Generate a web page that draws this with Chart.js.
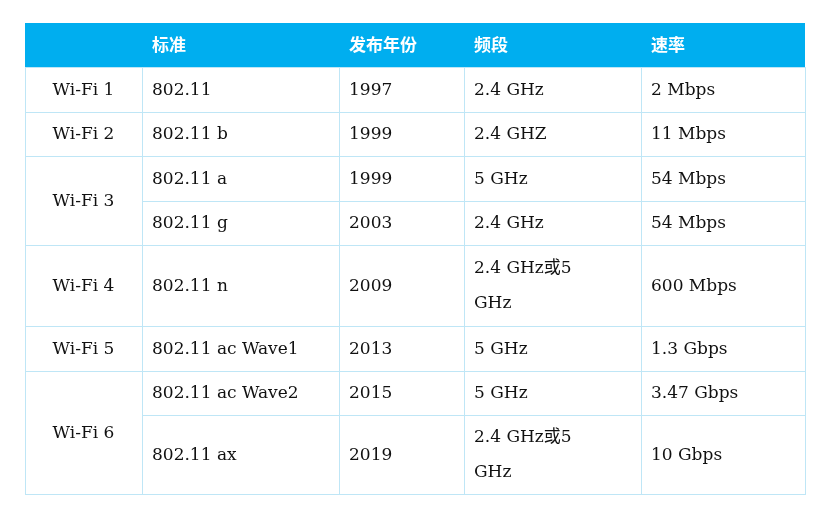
<!DOCTYPE html>
<html><head><meta charset="utf-8">
<script src="https://cdn.jsdelivr.net/npm/chart.js@4/dist/chart.umd.min.js"></script>
<style>html,body{margin:0;padding:0;background:#fff}</style>
</head><body>
<canvas id="c" width="836" height="515"></canvas>
<script>
const headers = ["", "标准", "发布年份", "频段", "速率"];
const generations = [["Wi-Fi 1",1],["Wi-Fi 2",1],["Wi-Fi 3",2],["Wi-Fi 4",1],["Wi-Fi 5",1],["Wi-Fi 6",2]];
const standards = ["802.11","802.11 b","802.11 a","802.11 g","802.11 n","802.11 ac Wave1","802.11 ac Wave2","802.11 ax"];
const years = ["1997","1999","1999","2003","2009","2013","2015","2019"];
const bands = [["2.4 GHz"],["2.4 GHZ"],["5 GHz"],["2.4 GHz"],["2.4 GHz或5","GHz"],["5 GHz"],["5 GHz"],["2.4 GHz或5","GHz"]];
const rates = ["2 Mbps","11 Mbps","54 Mbps","54 Mbps","600 Mbps","1.3 Gbps","3.47 Gbps","10 Gbps"];
const colWidths = [117,197,125,177,164];
const rowHeights = [44,45,44,45,44,81,45,44,79];

const colEdges = colWidths.reduce((a,w)=>{a.push(a[a.length-1]+w);return a;},[0]);
const rowEdges = rowHeights.reduce((a,h)=>{a.push(a[a.length-1]+h);return a;},[0]);

const tablePlugin = {
  id:'table',
  afterDraw(chart){
    const ctx = chart.ctx, xs = chart.scales.x, ys = chart.scales.y;
    const X = v=>xs.getPixelForValue(v), Y = v=>ys.getPixelForValue(v);
    const border = '#bfe6f6';
    const body = '17px "DejaVu Serif", "Noto Sans CJK SC", serif';
    ctx.save();
    // header
    ctx.fillStyle = '#00aeef';
    ctx.fillRect(X(0), Y(0), X(colEdges[5])-X(0), Y(rowEdges[1])-Y(0));
    ctx.fillStyle = '#fff';
    ctx.font = 'bold 17px "Noto Sans CJK SC", sans-serif';
    ctx.textBaseline = 'middle';
    headers.forEach((h,i)=>{ if(h) ctx.fillText(h, X(colEdges[i])+10, (Y(0)+Y(rowEdges[1]))/2); });
    // body cells
    ctx.strokeStyle = border; ctx.lineWidth = 1;
    const cell = (c0,c1,r0,r1,lines,center)=>{
      const x0=X(colEdges[c0]), x1=X(colEdges[c1]), y0=Y(rowEdges[r0]), y1=Y(rowEdges[r1]);
      ctx.strokeRect(Math.round(x0)+0.5, Math.round(y0)+0.5, Math.round(x1-x0), Math.round(y1-y0));
      ctx.fillStyle = '#111'; ctx.font = body;
      const lh = 35, cy = (y0+y1)/2 - (lines.length-1)*lh/2;
      lines.forEach((t,k)=>{
        ctx.textAlign = center ? 'center' : 'left';
        ctx.fillText(t, center ? (x0+x1)/2 : x0+10, cy + k*lh + 1);
      });
      ctx.textAlign='left';
    };
    let r = 1;
    generations.forEach(([g,span])=>{ cell(0,1,r,r+span,[g],true); r+=span; });
    for(let i=0;i<standards.length;i++){
      cell(1,2,i+1,i+2,[standards[i]]);
      cell(2,3,i+1,i+2,[years[i]]);
      cell(3,4,i+1,i+2,bands[i]);
      cell(4,5,i+1,i+2,[rates[i]]);
    }
    ctx.restore();
  }
};

new Chart(document.getElementById('c'), {
  type:'scatter',
  data:{datasets:[{data:[]}]},
  options:{
    responsive:false, animation:false,
    layout:{padding:{left:25,right:31,top:23,bottom:21}},
    plugins:{legend:{display:false},tooltip:{enabled:false}},
    scales:{
      x:{type:'linear',min:0,max:colEdges[5],display:false},
      y:{type:'linear',min:0,max:rowEdges[rowEdges.length-1],reverse:true,display:false}
    }
  },
  plugins:[tablePlugin]
});
</script>
</body></html>
